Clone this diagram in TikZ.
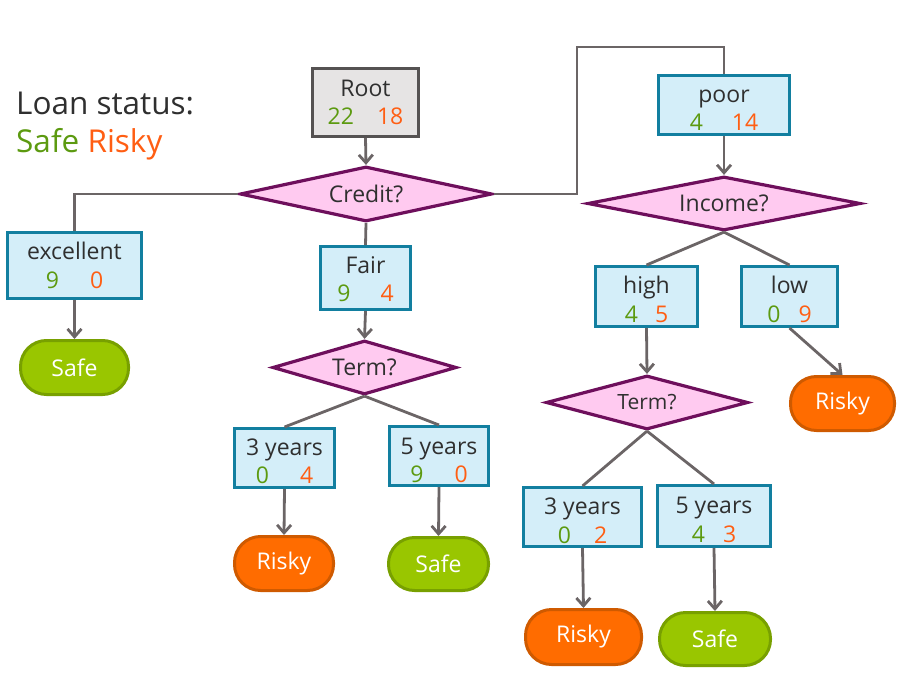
\documentclass[tikz,border=0pt]{standalone}
\usepackage{fontspec}
\setmainfont{Open Sans}
\usetikzlibrary{shapes.geometric,arrows.meta}
\definecolor{txt}{HTML}{2F2F2F}
\definecolor{lineg}{HTML}{6B6566}
\definecolor{boxf}{HTML}{D4EEF9}
\definecolor{boxb}{HTML}{127FA0}
\definecolor{rootf}{HTML}{E6E4E4}
\definecolor{rootb}{HTML}{555252}
\definecolor{diaf}{HTML}{FFCAF0}
\definecolor{diab}{HTML}{6E0F5C}
\definecolor{numg}{HTML}{5C9A10}
\definecolor{numo}{HTML}{FF5E13}
\definecolor{safef}{HTML}{99C600}
\definecolor{safeb}{HTML}{78A000}
\definecolor{riskf}{HTML}{FF6C00}
\definecolor{riskb}{HTML}{CF5A00}
\newcommand\gnum[1]{\textcolor{numg}{#1}}
\newcommand\onum[1]{\textcolor{numo}{#1}}
\begin{document}
\begin{tikzpicture}[x=1pt,y=-1pt,
  box/.style={rectangle, draw=boxb, fill=boxf, line width=3pt, inner sep=0pt},
  rootbox/.style={box, draw=rootb, fill=rootf},
  dia/.style={diamond, draw=diab, fill=diaf, line width=3.2pt, inner sep=0pt, text=txt, font=\fontsize{23}{27}\selectfont},
  term/.style={rectangle, rounded corners=26pt, line width=3pt, inner sep=0pt, text=white, font=\fontsize{23}{27}\selectfont},
  safe/.style={term, fill=safef, draw=safeb},
  risky/.style={term, fill=riskf, draw=riskb},
  lbl/.style={anchor=base, inner sep=0pt, text=txt, font=\fontsize{23}{27}\selectfont},
  leg/.style={anchor=base west, inner sep=0pt, text=txt, font=\fontsize{31.5}{36}\selectfont},
  conn/.style={draw=lineg, line width=2.8pt},
  arr/.style={conn, -{Straight Barb[length=8pt,width=14pt]}}
]
\useasboundingbox (0,0) rectangle (921,674);

% legend
\node[leg] (leg1) at (16,115) {Loan status:};
\node[leg] (leg2) at (16,153) {\textcolor{numg}{Safe} \textcolor{numo}{Risky}};

% boxes
\node[rootbox, minimum width=106pt, minimum height=68pt] (root) at (365.5,102.5) {};
\node[box, minimum width=134pt, minimum height=66pt] (exc) at (74.5,265.5) {};
\node[box, minimum width=90pt, minimum height=63pt] (fair) at (365.5,278) {};
\node[box, minimum width=131pt, minimum height=59pt] (poor) at (724,105) {};
\node[box, minimum width=102pt, minimum height=60pt] (high) at (646.5,296.5) {};
\node[box, minimum width=96pt, minimum height=60pt] (low) at (789.5,296.5) {};
\node[box, minimum width=100pt, minimum height=59pt] (ythreeL) at (284.5,458) {};
\node[box, minimum width=99pt, minimum height=59pt] (yfiveL) at (439,456) {};
\node[box, minimum width=118pt, minimum height=59pt] (ythreeR) at (582.5,517) {};
\node[box, minimum width=113pt, minimum height=61pt] (yfiveR) at (714,516) {};

% box texts
\node[lbl] (rootT) at ([yshift=-30pt]root.north) {Root};
\node[lbl] (rootN) at ([yshift=-58pt]root.north) {\gnum{22}\hspace{23pt}\onum{18}};
\node[lbl] (excT) at ([yshift=-28.5pt]exc.north) {excellent};
\node[lbl] (excN) at ([yshift=-57pt]exc.north) {\gnum{9}\hspace{31pt}\onum{0}};
\node[lbl] (fairT) at ([yshift=-28.5pt]fair.north) {Fair};
\node[lbl] (fairN) at ([yshift=-56.5pt]fair.north) {\gnum{9}\hspace{30pt}\onum{4}};
\node[lbl] (poorT) at ([yshift=-29pt]poor.north) {poor};
\node[lbl] (poorN) at ([yshift=-56.5pt]poor.north) {\gnum{4}\hspace{29pt}\onum{14}};
\node[lbl] (highT) at ([yshift=-28.5pt]high.north) {high};
\node[lbl] (highN) at ([yshift=-57pt]high.north) {\gnum{4}\hspace{17pt}\onum{5}};
\node[lbl] (lowT) at ([yshift=-28.5pt]low.north) {low};
\node[lbl] (lowN) at ([yshift=-57pt]low.north) {\gnum{0}\hspace{18pt}\onum{9}};
\node[lbl] (ythreeLT) at ([yshift=-28.5pt]ythreeL.north) {3 years};
\node[lbl] (ythreeLN) at ([yshift=-56.5pt]ythreeL.north) {\gnum{0}\hspace{31pt}\onum{4}};
\node[lbl] (yfiveLT) at ([yshift=-29pt]yfiveL.north) {5 years};
\node[lbl] (yfiveLN) at ([yshift=-57pt]yfiveL.north) {\gnum{9}\hspace{31pt}\onum{0}};
\node[lbl] (ythreeRT) at ([yshift=-28.5pt]ythreeR.north) {3 years};
\node[lbl] (ythreeRN) at ([yshift=-57pt]ythreeR.north) {\gnum{0}\hspace{23pt}\onum{2}};
\node[lbl] (yfiveRT) at ([yshift=-29pt]yfiveR.north) {5 years};
\node[lbl] (yfiveRN) at ([yshift=-58pt]yfiveR.north) {\gnum{4}\hspace{18pt}\onum{3}};

% diamonds
\node[dia, aspect=4.6, minimum width=252pt, minimum height=55pt] (credit) at (366,194) {Credit?};
\node[dia, aspect=3.4, minimum width=184pt, minimum height=54pt] (termL) at (364.5,367.5) {Term?};
\node[dia, aspect=5.05, minimum width=273pt, minimum height=54pt] (income) at (724,203.5) {Income?};
\node[dia, aspect=3.74, minimum width=202pt, minimum height=54pt, font=\fontsize{21}{25}\selectfont] (termR) at (647,402.5) {Term?};

% terminals
\node[safe, minimum width=108pt, minimum height=54pt] (safeA) at (74.5,367.5) {Safe};
\node[risky, minimum width=99pt, minimum height=54pt] (riskyA) at (284,563.5) {Risky};
\node[safe, minimum width=100pt, minimum height=53pt] (safeB) at (438.5,564) {Safe};
\node[risky, minimum width=104pt, minimum height=54pt] (riskyB) at (842.5,403.5) {Risky};
\node[risky, minimum width=116pt, minimum height=55pt] (riskyC) at (583.5,637) {Risky};
\node[safe, minimum width=111pt, minimum height=53pt] (safeC) at (715,639) {Safe};

% connectors
\coordinate (bend) at (577,47);
\draw[arr] (root.south) -- (credit.north);
\draw[conn] (credit.west) -| (exc.north);
\draw[conn] (credit.south) -- (fair.north);
\draw[conn] (credit.east) -| (bend) -| (poor.north);
\draw[arr] (exc.south) -- (safeA.north);
\draw[arr] (fair.south) -- (termL.north);
\draw[conn] (termL.south) -- (ythreeL.north);
\draw[conn] (termL.south) -- (yfiveL.north);
\draw[arr] (ythreeL.south) -- (riskyA.north);
\draw[arr] (yfiveL.south) -- (safeB.north);
\draw[arr] (poor.south) -- (income.north);
\draw[conn] (income.south) -- (high.north);
\draw[conn] (income.south) -- (low.north);
\draw[arr] (low.south) -- (riskyB.north);
\draw[arr] (high.south) -- (termR.north);
\draw[conn] (termR.south) -- (ythreeR.north);
\draw[conn] (termR.south) -- (yfiveR.north);
\draw[arr] (ythreeR.south) -- (riskyC.north);
\draw[arr] (yfiveR.south) -- (safeC.north);
\end{tikzpicture}
\end{document}
